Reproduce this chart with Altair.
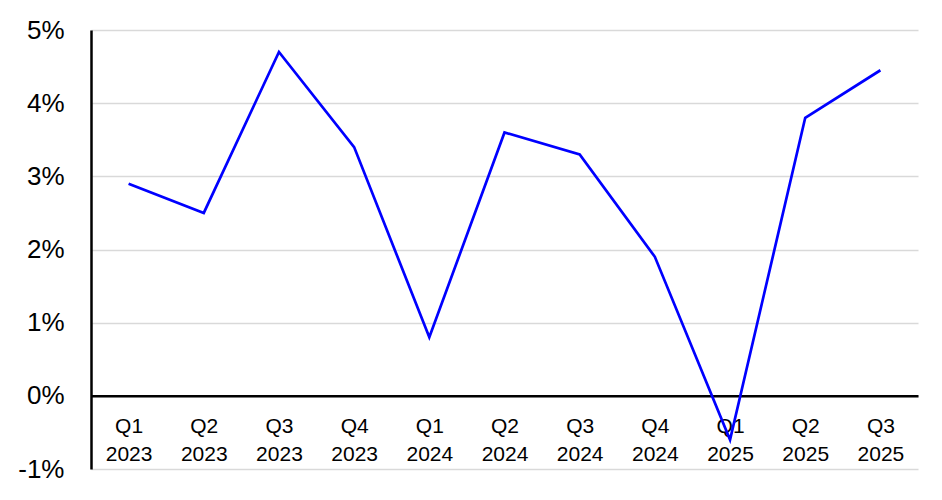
import altair as alt
import pandas as pd

quarters = ["Q1 2023", "Q2 2023", "Q3 2023", "Q4 2023", "Q1 2024", "Q2 2024",
            "Q3 2024", "Q4 2024", "Q1 2025", "Q2 2025", "Q3 2025"]
values = [2.9, 2.5, 4.7, 3.4, 0.8, 3.6, 3.3, 1.9, -0.6, 3.8, 4.45]
y_ticks = [-1, 0, 1, 2, 3, 4, 5]

df = pd.DataFrame({"q": quarters, "v": values})

W, H = 827, 439
unit = H / 6.0

chart = alt.Chart(df).mark_line(color="#0000ff", strokeWidth=2.7).encode(
    x=alt.X("q:N", sort=quarters, title=None,
            scale=alt.Scale(type="point", padding=0.5),
            axis=alt.Axis(offset=-unit, domainColor="black", domainWidth=2.5,
                          ticks=False, grid=False, labelAngle=0,
                          labelExpr="split(datum.label, ' ')",
                          labelFont="Liberation Sans", labelFontSize=21,
                          labelColor="black", labelBaseline="top",
                          labelLineHeight=28, labelPadding=20)),
    y=alt.Y("v:Q", title=None,
            scale=alt.Scale(domain=[-1, 5], nice=False),
            axis=alt.Axis(values=y_ticks,
                          labelExpr="datum.value + '%'",
                          domainColor="black", domainWidth=2.5, ticks=False,
                          gridColor="#d9d9d9", gridWidth=1.5,
                          labelFont="Liberation Sans", labelFontSize=26,
                          labelColor="black", labelPadding=27)),
).properties(
    width=W, height=H,
    autosize=alt.AutoSizeParams(type="none"),
    padding={"left": 83, "top": 22, "right": 10, "bottom": 22},
).configure_view(stroke=None)

chart.save("out.html", embed_options={"renderer": "svg", "actions": False})
